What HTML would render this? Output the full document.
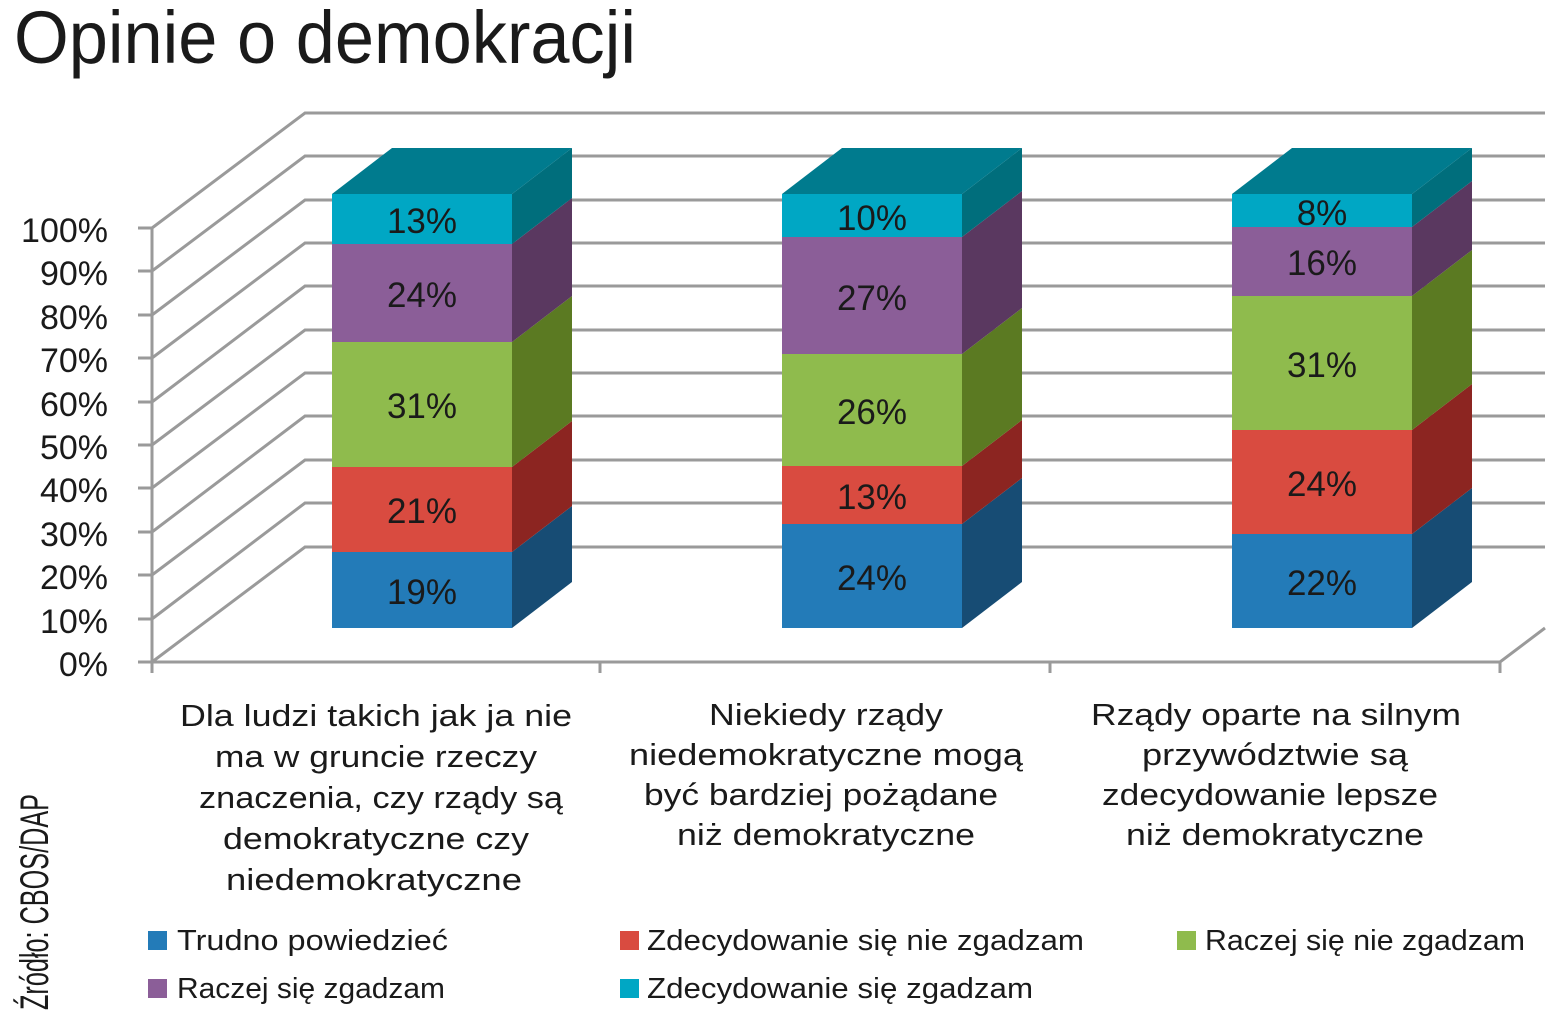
<!DOCTYPE html>
<html><head><meta charset="utf-8"><style>
html,body{margin:0;padding:0;background:#fff;}
svg{display:block;}
text{font-family:"Liberation Sans",sans-serif;fill:#1a1a1a;}
</style></head><body>
<svg width="1553" height="1024" viewBox="0 0 1553 1024" xmlns="http://www.w3.org/2000/svg">
<text x="14" y="63" font-size="74" textLength="622" lengthAdjust="spacingAndGlyphs">Opinie o demokracji</text>

<g stroke="#9a9a9a" stroke-width="3" fill="none">
<polyline points="152,228 305,113 1545,113"/>
<polyline points="152,271 305,156 1545,156"/>
<polyline points="152,315 305,200 1545,200"/>
<polyline points="152,358 305,243 1545,243"/>
<polyline points="152,402 305,286 1545,286"/>
<polyline points="152,445 305,330 1545,330"/>
<polyline points="152,488 305,373 1545,373"/>
<polyline points="152,532 305,416 1545,416"/>
<polyline points="152,575 305,460 1545,460"/>
<polyline points="152,619 305,503 1545,503"/>
<polyline points="152,662 305,547 1545,547"/>
<line x1="152" y1="228" x2="152" y2="673"/>
<polyline points="152,662 1500,662 1545,628"/>
<line x1="600" y1="662" x2="600" y2="673"/>
<line x1="1050" y1="662" x2="1050" y2="673"/>
<line x1="1500" y1="662" x2="1500" y2="673"/>
<line x1="138" y1="228" x2="152" y2="228"/>
<line x1="138" y1="271" x2="152" y2="271"/>
<line x1="138" y1="315" x2="152" y2="315"/>
<line x1="138" y1="358" x2="152" y2="358"/>
<line x1="138" y1="402" x2="152" y2="402"/>
<line x1="138" y1="445" x2="152" y2="445"/>
<line x1="138" y1="488" x2="152" y2="488"/>
<line x1="138" y1="532" x2="152" y2="532"/>
<line x1="138" y1="575" x2="152" y2="575"/>
<line x1="138" y1="619" x2="152" y2="619"/>
<line x1="138" y1="662" x2="152" y2="662"/>
</g>

<g font-size="34" text-anchor="end">
<text x="108" y="242">100%</text>
<text x="108" y="285">90%</text>
<text x="108" y="329">80%</text>
<text x="108" y="372">70%</text>
<text x="108" y="416">60%</text>
<text x="108" y="459">50%</text>
<text x="108" y="502">40%</text>
<text x="108" y="546">30%</text>
<text x="108" y="589">20%</text>
<text x="108" y="633">10%</text>
<text x="108" y="676">0%</text>
</g>

<g>
<rect x="332" y="552" width="180" height="76" fill="#237bb8"/>
<polygon points="512,628 572,582 572,506 512,552" fill="#174c74"/>
<rect x="332" y="467" width="180" height="85" fill="#d94b40"/>
<polygon points="512,552 572,506 572,421 512,467" fill="#8c2521"/>
<rect x="332" y="342" width="180" height="125" fill="#8fbb4d"/>
<polygon points="512,467 572,421 572,296 512,342" fill="#5b7a22"/>
<rect x="332" y="244" width="180" height="98" fill="#8b5e98"/>
<polygon points="512,342 572,296 572,198 512,244" fill="#5a3860"/>
<rect x="332" y="194" width="180" height="50" fill="#00a7c4"/>
<polygon points="512,244 572,198 572,148 512,194" fill="#006e7c"/>
<polygon points="332,194 512,194 572,148 392,148" fill="#007b8e"/>
</g>
<g>
<rect x="782" y="524" width="180" height="104" fill="#237bb8"/>
<polygon points="962,628 1022,582 1022,478 962,524" fill="#174c74"/>
<rect x="782" y="466" width="180" height="58" fill="#d94b40"/>
<polygon points="962,524 1022,478 1022,420 962,466" fill="#8c2521"/>
<rect x="782" y="354" width="180" height="112" fill="#8fbb4d"/>
<polygon points="962,466 1022,420 1022,308 962,354" fill="#5b7a22"/>
<rect x="782" y="237" width="180" height="117" fill="#8b5e98"/>
<polygon points="962,354 1022,308 1022,191 962,237" fill="#5a3860"/>
<rect x="782" y="194" width="180" height="43" fill="#00a7c4"/>
<polygon points="962,237 1022,191 1022,148 962,194" fill="#006e7c"/>
<polygon points="782,194 962,194 1022,148 842,148" fill="#007b8e"/>
</g>
<g>
<rect x="1232" y="534" width="180" height="94" fill="#237bb8"/>
<polygon points="1412,628 1472,582 1472,488 1412,534" fill="#174c74"/>
<rect x="1232" y="430" width="180" height="104" fill="#d94b40"/>
<polygon points="1412,534 1472,488 1472,384 1412,430" fill="#8c2521"/>
<rect x="1232" y="296" width="180" height="134" fill="#8fbb4d"/>
<polygon points="1412,430 1472,384 1472,250 1412,296" fill="#5b7a22"/>
<rect x="1232" y="227" width="180" height="69" fill="#8b5e98"/>
<polygon points="1412,296 1472,250 1472,181 1412,227" fill="#5a3860"/>
<rect x="1232" y="194" width="180" height="33" fill="#00a7c4"/>
<polygon points="1412,227 1472,181 1472,148 1412,194" fill="#006e7c"/>
<polygon points="1232,194 1412,194 1472,148 1292,148" fill="#007b8e"/>
</g>

<g font-size="35" text-anchor="middle">
<text x="422" y="604">19%</text>
<text x="422" y="523">21%</text>
<text x="422" y="418">31%</text>
<text x="422" y="307">24%</text>
<text x="422" y="233">13%</text>
<text x="872" y="590">24%</text>
<text x="872" y="509">13%</text>
<text x="872" y="424">26%</text>
<text x="872" y="310">27%</text>
<text x="872" y="230">10%</text>
<text x="1322" y="595">22%</text>
<text x="1322" y="496">24%</text>
<text x="1322" y="377">31%</text>
<text x="1322" y="275">16%</text>
<text x="1322" y="225">8%</text>
</g>

<g font-size="31" text-anchor="middle">
<text x="376" y="726" textLength="392" lengthAdjust="spacingAndGlyphs">Dla ludzi takich jak ja nie</text>
<text x="376" y="767" textLength="322" lengthAdjust="spacingAndGlyphs">ma w gruncie rzeczy</text>
<text x="381" y="808" textLength="364" lengthAdjust="spacingAndGlyphs">znaczenia, czy rządy są</text>
<text x="376" y="849" textLength="306" lengthAdjust="spacingAndGlyphs">demokratyczne czy</text>
<text x="374" y="890" textLength="296" lengthAdjust="spacingAndGlyphs">niedemokratyczne</text>
<text x="826" y="725" textLength="234" lengthAdjust="spacingAndGlyphs">Niekiedy rządy</text>
<text x="826" y="765" textLength="394" lengthAdjust="spacingAndGlyphs">niedemokratyczne mogą</text>
<text x="821" y="805" textLength="354" lengthAdjust="spacingAndGlyphs">być bardziej pożądane</text>
<text x="826" y="845" textLength="298" lengthAdjust="spacingAndGlyphs">niż demokratyczne</text>
<text x="1276" y="725" textLength="370" lengthAdjust="spacingAndGlyphs">Rządy oparte na silnym</text>
<text x="1275" y="765" textLength="266" lengthAdjust="spacingAndGlyphs">przywództwie są</text>
<text x="1270" y="805" textLength="336" lengthAdjust="spacingAndGlyphs">zdecydowanie lepsze</text>
<text x="1275" y="845" textLength="298" lengthAdjust="spacingAndGlyphs">niż demokratyczne</text>
</g>

<g font-size="29">
<rect x="148" y="931" width="19" height="19" fill="#237bb8"/>
<text x="177" y="950" textLength="271" lengthAdjust="spacingAndGlyphs">Trudno powiedzieć</text>
<rect x="620" y="931" width="19" height="19" fill="#d94b40"/>
<text x="647" y="950" textLength="437" lengthAdjust="spacingAndGlyphs">Zdecydowanie się nie zgadzam</text>
<rect x="1177" y="931" width="19" height="19" fill="#8fbb4d"/>
<text x="1205" y="950" textLength="320" lengthAdjust="spacingAndGlyphs">Raczej się nie zgadzam</text>
<rect x="148" y="979" width="19" height="19" fill="#8b5e98"/>
<text x="177" y="998" textLength="268" lengthAdjust="spacingAndGlyphs">Raczej się zgadzam</text>
<rect x="620" y="979" width="19" height="19" fill="#00a7c4"/>
<text x="647" y="998" textLength="386" lengthAdjust="spacingAndGlyphs">Zdecydowanie się zgadzam</text>
</g>

<text transform="translate(48,1010) rotate(-90)" font-size="40" font-weight="bold" textLength="216" lengthAdjust="spacingAndGlyphs" style="font-family:'Liberation Sans Narrow','Liberation Sans',sans-serif;font-weight:normal">Źródło: CBOS/DAP</text>
</svg>
</body></html>
